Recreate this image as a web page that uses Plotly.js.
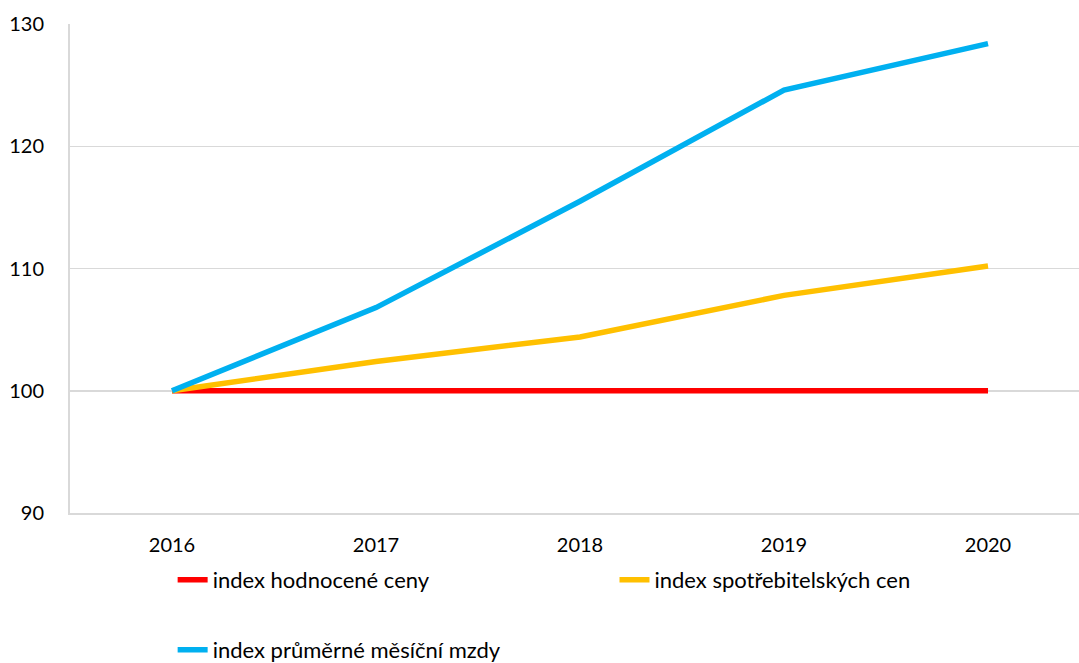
<!DOCTYPE html>
<html>
<head>
<meta charset="utf-8">
<script src="https://cdn.plot.ly/plotly-3.0.1.min.js"></script>
<style>html,body{margin:0;padding:0;background:#fff;overflow:hidden}#chart{width:1079px;height:663px}</style>
</head>
<body>
<div id="chart"></div>
<script>
const years = ['2016', '2017', '2018', '2019', '2020'];
const hodnoceneCeny = [100, 100, 100, 100, 100];
const spotrebitelskeCeny = [100, 102.4, 104.4, 107.8, 110.2];
const prumernaMzda = [100, 106.8, 115.5, 124.6, 128.4];
const seriesNames = ['index hodnocené ceny', 'index spotřebitelských cen', 'index průměrné měsíční mzdy'];
const yTicks = [90, 100, 110, 120, 130];

const FONT = 'Lato, "Open Sans", sans-serif';
const traces = [
  {x: years, y: hodnoceneCeny, name: seriesNames[0], legend: 'legend', line: {color: '#FF0000', width: 5.5}},
  {x: years, y: spotrebitelskeCeny, name: seriesNames[1], legend: 'legend2', line: {color: '#FFC000', width: 5.5}},
  {x: years, y: prumernaMzda, name: seriesNames[2], legend: 'legend3', line: {color: '#00B0F0', width: 5.5}}
].map(t => Object.assign({type: 'scatter', mode: 'lines', hoverinfo: 'x+y+name'}, t));

const legBase = {xref: 'container', yref: 'container', xanchor: 'left', yanchor: 'middle',
  bgcolor: 'rgba(0,0,0,0)', font: {family: FONT, size: 22, color: '#000'}, itemwidth: 30};

const layout = {
  width: 1079, height: 663,
  margin: {l: 70, r: 0, t: 24, b: 150, autoexpand: false},
  paper_bgcolor: '#fff', plot_bgcolor: '#fff',
  font: {family: FONT, size: 20, color: '#000'},
  showlegend: true,
  xaxis: {type: 'category', range: [-0.5, 4.446], showgrid: false, showline: true, linecolor: '#d9d9d9', linewidth: 2,
    ticks: '', tickangle: 0, automargin: false, ticklabelstandoff: 13, tickfont: {family: FONT, size: 20, color: '#000'}, fixedrange: true},
  yaxis: {range: [90, 130], tickvals: yTicks, showgrid: true, gridcolor: '#d9d9d9', gridwidth: 1.5, zeroline: false,
    showline: true, linecolor: '#d9d9d9', linewidth: 2, ticks: '', automargin: false, ticklabelstandoff: 20,
    tickfont: {family: FONT, size: 20, color: '#000'}, fixedrange: true},
  legend: Object.assign({}, legBase, {x: 0.16, y: 1 - 580 / 663}),
  legend2: Object.assign({}, legBase, {x: 0.5695, y: 1 - 580 / 663}),
  legend3: Object.assign({}, legBase, {x: 0.16, y: 1 - 650 / 663})
};

Plotly.newPlot('chart', traces, layout, {displayModeBar: false, staticPlot: true});
</script>
</body>
</html>
